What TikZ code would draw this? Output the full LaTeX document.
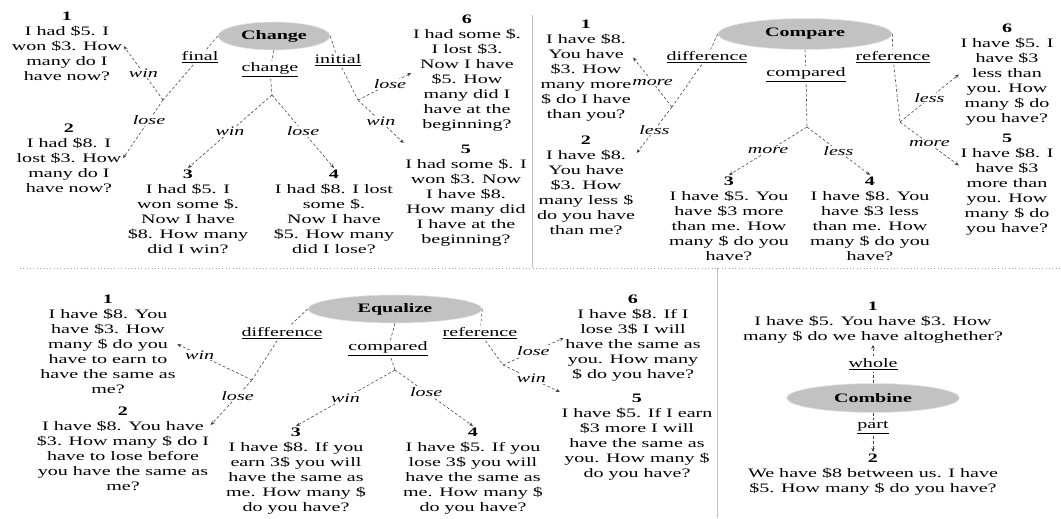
\documentclass[tikz,border=0pt]{standalone}
\usepackage{fontspec}
\setmainfont{Liberation Serif}[FakeStretch=1.55]
\usetikzlibrary{arrows.meta,shapes.geometric}

\tikzset{
  schema/.style={ellipse, fill=black!24, draw=black!10, inner sep=0pt, font=\bfseries},
  problem/.style={anchor=north, align=center, inner sep=1pt},
  role/.style={fill=white, inner sep=1pt},
  move/.style={midway, fill=white, inner sep=0.5pt, font=\itshape},
  link/.style={draw=black!75, dash pattern=on 2pt off 1.5pt},
  flow/.style={link, -{Stealth[length=3pt,width=2.5pt]}},
}

\begin{document}
\fontsize{9.2}{10.7}\selectfont
\begin{tikzpicture}
  \useasboundingbox (0,0) rectangle (26.525,12.95);

  % Panel separators
  \draw[black!25] (13.3,12.575) -- (13.3,6.25);
  \draw[black!35, dotted] (0.5,6.25) -- (26.525,6.25);
  \draw[black!25] (17.925,6.25) -- (17.925,0);

  % ---------------- Change ----------------
  \node[schema, minimum width=2.8cm, minimum height=0.7cm] (chg) at (6.85,12.05) {Change};
  \node[role] (final) at (5.0,11.525) {\underline{final}};
  \node[role] (change) at (6.75,11.2) {\underline{change}};
  \node[role] (initial) at (8.45,11.45) {\underline{initial}};
  \coordinate (jf) at (4.075,10.45);
  \coordinate (jc) at (6.8,10.575);
  \coordinate (ji) at (8.95,10.45);

  \node[problem] (c1) at (1.675,12.7) {\textbf{1}\\I had \$5. I\\won \$3. How\\many do I\\have now?};
  \node[problem] (c2) at (1.725,9.9) {\textbf{2}\\I had \$8. I\\lost \$3. How\\many do I\\have now?};
  \node[problem] (c3) at (4.7,8.75) {\textbf{3}\\I had \$5. I\\won some \$.\\Now I have\\\$8. How many\\did I win?};
  \node[problem] (c4) at (8.35,8.75) {\textbf{4}\\I had \$8. I lost\\some \$.\\Now I have\\\$5. How many\\did I lose?};
  \node[problem] (c6) at (11.675,12.625) {\textbf{6}\\I had some \$.\\I lost \$3.\\Now I have\\\$5. How\\many did I\\have at the\\beginning?};
  \node[problem] (c5) at (11.65,9.375) {\textbf{5}\\I had some \$. I\\won \$3. Now\\I have \$8.\\How many did\\I have at the\\beginning?};

  \draw[link] (chg.west) -- (final) -- (jf);
  \draw[link] (chg.south) -- (change) -- (jc);
  \draw[link] (chg.east) -- (initial) -- (ji);
  \draw[flow] (jf) -- node[move] {win} (c1.east);
  \draw[flow] (jf) -- node[move, pos=0.35] {lose} (c2.east);
  \draw[flow] (jc) -- node[move] {win} (c3.north);
  \draw[flow] (jc) -- node[move] {lose} (c4.north);
  \draw[flow] (ji) -- node[move, pos=0.6] {lose} (c6.west);
  \draw[flow] (ji) -- node[move] {win} (c5.north west);

  % ---------------- Compare ----------------
  \node[schema, minimum width=4.35cm, minimum height=0.775cm] (cmp) at (20.125,12.1) {Compare};
  \node[role] (cdiff) at (17.675,11.525) {\underline{difference}};
  \node[role] (ccomp) at (20.15,11.075) {\underline{compared}};
  \node[role] (cref) at (22.325,11.525) {\underline{reference}};
  \coordinate (kd) at (16.8,10.275);
  \coordinate (km) at (20.175,9.775);
  \coordinate (kr) at (22.5,9.9);

  \node[problem] (p1) at (14.65,12.5) {\textbf{1}\\I have \$8.\\You have\\\$3. How\\many more\\\$ do I have\\than you?};
  \node[problem] (p2) at (14.65,9.6) {\textbf{2}\\I have \$8.\\You have\\\$3. How\\many less \$\\do you have\\than me?};
  \node[problem] (p3) at (18.225,8.575) {\textbf{3}\\I have \$5. You\\have \$3 more\\than me. How\\many \$ do you\\have?};
  \node[problem] (p4) at (21.75,8.575) {\textbf{4}\\I have \$8. You\\have \$3 less\\than me. How\\many \$ do you\\have?};
  \node[problem] (p6) at (25.175,12.4) {\textbf{6}\\I have \$5. I\\have \$3\\less than\\you. How\\many \$ do\\you have?};
  \node[problem] (p5) at (25.175,9.65) {\textbf{5}\\I have \$8. I\\have \$3\\more than\\you. How\\many \$ do\\you have?};

  \draw[link] (cmp.west) -- (cdiff) -- (kd);
  \draw[link] (cmp.south) -- (ccomp) -- (km);
  \draw[link] (cmp.east) -- (cref) -- (kr);
  \draw[flow] (kd) -- node[move] {more} ([yshift=0.325cm]p1.east);
  \draw[flow] (kd) -- node[move] {less} ([yshift=-0.475cm]p2.north east);
  \draw[flow] (km) -- node[move] {more} (p3.north);
  \draw[flow] (km) -- node[move] {less} (p4.north);
  \draw[flow] (kr) -- node[move] {less} (p6.west);
  \draw[flow] (kr) -- node[move] {more} ([yshift=0.475cm]p5.west);

  % ---------------- Equalize ----------------
  \node[schema, minimum width=4.35cm, minimum height=0.7cm] (eql) at (9.875,5.225) {Equalize};
  \node[role] (ediff) at (7.05,4.625) {\underline{difference}};
  \node[role] (ecomp) at (9.7,4.225) {\underline{compared}};
  \node[role] (eref) at (12.0,4.625) {\underline{reference}};
  \coordinate (qd) at (6.3,3.45);
  \coordinate (qm) at (9.875,3.7);
  \coordinate (qr) at (12.575,3.825);

  \node[problem] (e1) at (2.7,5.625) {\textbf{1}\\I have \$8. You\\have \$3. How\\many \$ do you\\have to earn to\\have the same as\\me?};
  \node[problem] (e2) at (3.075,2.825) {\textbf{2}\\I have \$8. You have\\\$3. How many \$ do I\\have to lose before\\you have the same as\\me?};
  \node[problem] (e3) at (7.4,2.3) {\textbf{3}\\I have \$8. If you\\earn 3\$ you will\\have the same as\\me. How many \$\\do you have?};
  \node[problem] (e4) at (11.825,2.3) {\textbf{4}\\I have \$5. If you\\lose 3\$ you will\\have the same as\\me. How many \$\\do you have?};
  \node[problem] (e6) at (15.825,5.625) {\textbf{6}\\I have \$8. If I\\lose 3\$ I will\\have the same as\\you. How many\\\$ do you have?};
  \node[problem] (e5) at (15.925,3.15) {\textbf{5}\\I have \$5. If I earn\\\$3 more I will\\have the same as\\you. How many \$\\do you have?};

  \draw[link] (eql.west) -- (ediff) -- (qd);
  \draw[link] (eql.south) -- (ecomp) -- (qm);
  \draw[link] (eql.east) -- (eref) -- (qr);
  \draw[flow] (qd) -- node[move, pos=0.7] {win} (e1.east);
  \draw[flow] (qd) -- node[move, pos=0.35] {lose} ([yshift=-0.5cm]e2.north east);
  \draw[flow] (qm) -- node[move] {win} (e3.north);
  \draw[flow] (qm) -- node[move, pos=0.4] {lose} (e4.north);
  \draw[flow] (qr) -- node[move] {lose} (e6.west);
  \draw[flow] (qr) -- node[move] {win} (e5.north west);

  % ---------------- Combine ----------------
  \node[schema, minimum width=4.325cm, minimum height=0.725cm] (cmb) at (21.825,3.0) {Combine};
  \node[role] (whole) at (21.825,3.85) {\underline{whole}};
  \node[role] (part) at (21.825,2.25) {\underline{part}};
  \node[problem] (b1) at (21.825,5.45) {\textbf{1}\\I have \$5. You have \$3. How\\many \$ do we have altoghether?};
  \node[problem] (b2) at (21.825,1.65) {\textbf{2}\\We have \$8 between us. I have\\\$5. How many \$ do you have?};

  \draw[link] (cmb.north) -- (whole);
  \draw[flow] (whole) -- (b1.south);
  \draw[link] (cmb.south) -- (part);
  \draw[flow] (part) -- (b2.north);
\end{tikzpicture}
\end{document}
